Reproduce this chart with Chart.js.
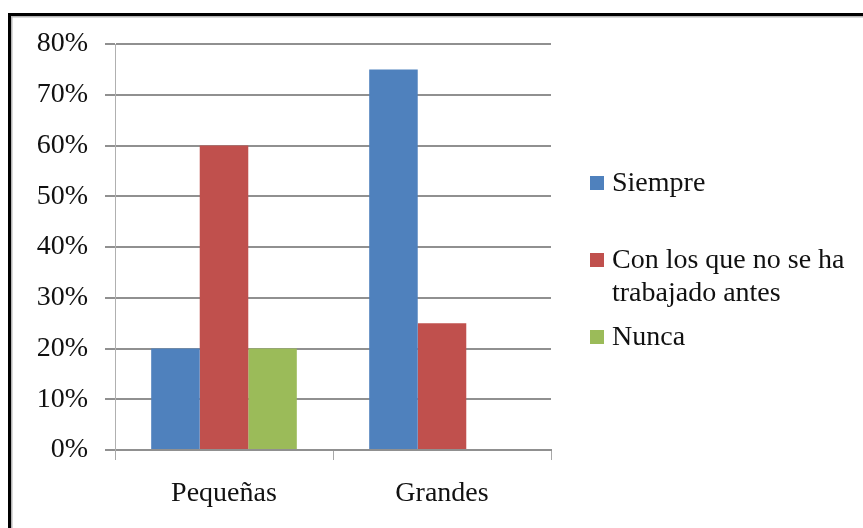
<!DOCTYPE html>
<html>
<head>
  <meta charset="utf-8">
  <title>Pequeñas y Grandes</title>
  <script src="https://cdn.jsdelivr.net/npm/chart.js"></script>
  <style>
    body {
      margin: 0;
      background-color: #fff;
    }

    .chart-box {
      position: relative;
      width: 863px;
      height: 528px;
    }
  </style>
</head>
<body>
  <div class="chart-box">
    <canvas id="grafico"></canvas>
  </div>

  <script>
    const categorias = ['Pequeñas', 'Grandes'];
    const series = ['Siempre', 'Con los que no se ha trabajado antes', 'Nunca'];
    const siempre = [20, 75];
    const conLosQueNo = [60, 25];
    const nunca = [20, 0];
    const colores = ['#4F81BD', '#C0504D', '#9BBB59'];

    const fuente = '"Liberation Serif", "Times New Roman", serif';

    // marco negro de la imagen original
    const marco = {
      id: 'marco',
      beforeDraw(chart) {
        const ctx = chart.ctx;
        ctx.save();
        ctx.fillStyle = '#fff';
        ctx.fillRect(0, 0, chart.width, chart.height);
        ctx.fillStyle = '#000';
        ctx.fillRect(8, 13, chart.width, 3);
        ctx.fillRect(8, 13, 3, chart.height);
        ctx.fillStyle = '#b5b5b5';
        ctx.fillRect(11, 16, chart.width, 1.5);
        ctx.fillRect(11, 16, 1.5, chart.height);
        ctx.restore();
      }
    };

    // leyenda a la derecha, con texto en varias líneas
    const leyenda = {
      id: 'leyenda',
      afterDraw(chart) {
        const ctx = chart.ctx;
        const x = 590, y0 = 183, paso = 77, alto = 33, maxAncho = 245;
        ctx.save();
        ctx.font = '28px ' + fuente;
        ctx.textBaseline = 'middle';
        chart.data.datasets.forEach((ds, i) => {
          const y = y0 + i * paso;
          ctx.fillStyle = ds.backgroundColor;
          ctx.fillRect(x, y - 7, 14, 14);
          // partir el texto en líneas
          const palabras = ds.label.split(' ');
          const lineas = [];
          let actual = '';
          palabras.forEach(p => {
            const prueba = actual ? actual + ' ' + p : p;
            if (ctx.measureText(prueba).width > maxAncho && actual) {
              lineas.push(actual);
              actual = p;
            } else {
              actual = prueba;
            }
          });
          lineas.push(actual);
          ctx.fillStyle = '#111';
          lineas.forEach((l, j) => ctx.fillText(l, x + 22, y + 1 + j * alto));
        });
        ctx.restore();
      }
    };

    const datos = [siempre, conLosQueNo, nunca];

    new Chart(document.getElementById('grafico').getContext('2d'), {
      type: 'bar',
      data: {
        labels: categorias,
        datasets: series.map((nombre, i) => ({
          label: nombre,
          data: datos[i],
          backgroundColor: colores[i],
          borderWidth: 0,
          categoryPercentage: 0.668,
          barPercentage: 1
        }))
      },
      options: {
        responsive: true,
        maintainAspectRatio: false,
        animation: false,
        layout: {
          padding: { top: 44, right: 312, bottom: 0, left: 0 }
        },
        plugins: {
          legend: { display: false },
          tooltip: { enabled: false }
        },
        scales: {
          x: {
            grid: {
              offset: true,
              drawOnChartArea: false,
              tickLength: 10,
              color: '#a8a8a8',
              lineWidth: 1
            },
            border: { color: '#909090', width: 2 },
            ticks: {
              color: '#111',
              padding: 17,
              font: { family: fuente, size: 28 }
            },
            afterFit(s) {
              s.height = 78;
              s.paddingLeft = 0;
              s.paddingRight = 0;
            }
          },
          y: {
            min: 0,
            max: 80,
            ticks: {
              stepSize: 10,
              color: '#111',
              padding: 17,
              font: { family: fuente, size: 28 },
              callback: v => v + '%'
            },
            grid: {
              color: '#909090',
              lineWidth: 2,
              tickLength: 10
            },
            border: { color: '#b0b0b0', width: 1 },
            afterFit(s) {
              s.width = 115;
              s.paddingTop = 0;
              s.paddingBottom = 0;
            }
          }
        }
      },
      plugins: [marco, leyenda]
    });
  </script>
</body>
</html>
